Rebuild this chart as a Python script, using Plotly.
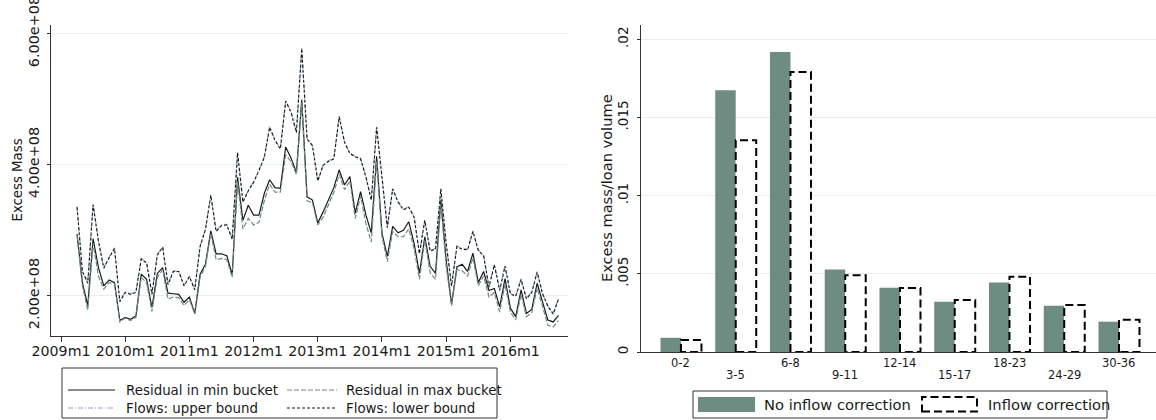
import plotly.graph_objects as go

W, H = 1156, 420

# ---- Left panel: monthly excess mass (units of 1e8), 2009m4 .. 2016m10 ----
first_month_index = 3  # months since 2009m1
resid_min = [
    2.94, 2.20, 1.85, 2.87, 2.43, 2.15, 2.24, 2.20, 1.62, 1.67, 1.64, 1.69,
    2.33, 2.25, 1.82, 2.34, 2.43, 2.04, 2.03, 2.02, 1.90, 1.98, 1.73, 2.33,
    2.48, 2.99, 2.64, 2.64, 2.61, 2.32, 3.81, 3.15, 3.38, 3.23, 3.23, 3.56,
    3.77, 3.65, 3.64, 4.27, 4.10, 3.88, 4.99, 3.51, 3.46, 3.11, 3.28, 3.46,
    3.65, 3.92, 3.69, 3.82, 3.26, 3.59, 3.23, 2.96, 4.13, 2.95, 2.60, 3.06,
    2.96, 3.00, 3.13, 2.80, 2.34, 2.90, 2.45, 2.34, 3.46, 2.54, 1.87, 2.44,
    2.48, 2.37, 2.65, 2.20, 2.37, 2.08, 2.11, 1.83, 2.26, 1.81, 1.68, 2.09,
    1.73, 1.79, 2.19, 1.91, 1.63, 1.60, 1.70,
]
resid_max = [
    2.92, 2.15, 1.78, 2.80, 2.30, 2.10, 2.20, 2.18, 1.60, 1.66, 1.62, 1.67,
    2.28, 2.20, 1.76, 2.28, 2.40, 1.95, 1.98, 1.97, 1.85, 1.94, 1.72, 2.28,
    2.45, 2.95, 2.55, 2.57, 2.55, 2.28, 3.75, 3.02, 3.18, 3.08, 3.12, 3.45,
    3.70, 3.58, 3.58, 4.15, 4.05, 3.85, 4.95, 3.45, 3.42, 3.08, 3.20, 3.38,
    3.58, 3.85, 3.62, 3.75, 3.18, 3.52, 3.10, 2.82, 4.05, 2.90, 2.52, 2.98,
    2.90, 2.90, 3.02, 2.72, 2.25, 2.85, 2.35, 2.25, 3.40, 2.45, 1.85, 2.40,
    2.38, 2.30, 2.58, 2.15, 2.30, 1.98, 2.05, 1.75, 2.18, 1.75, 1.63, 2.02,
    1.68, 1.74, 2.12, 1.84, 1.55, 1.52, 1.62,
]
flows_upper = [
    3.36, 2.38, 2.20, 3.40, 2.84, 2.43, 2.59, 2.73, 1.92, 2.06, 2.03, 2.06,
    2.57, 2.51, 2.03, 2.63, 2.75, 2.18, 2.38, 2.38, 2.16, 2.30, 2.10, 2.76,
    3.02, 3.54, 2.99, 3.08, 3.09, 2.87, 4.19, 3.44, 3.61, 3.74, 3.92, 4.12,
    4.58, 4.38, 4.25, 4.98, 4.81, 4.50, 5.78, 4.40, 4.30, 3.76, 4.00, 4.06,
    4.10, 4.74, 4.35, 4.18, 4.13, 4.10, 3.82, 3.47, 4.58, 3.82, 3.05, 3.64,
    3.44, 3.32, 3.36, 3.21, 2.65, 3.16, 2.69, 2.72, 3.64, 2.80, 2.16, 2.76,
    2.72, 2.71, 2.99, 2.70, 2.62, 2.14, 2.48, 2.09, 2.46, 2.04, 2.00, 2.26,
    1.96, 2.06, 2.37, 2.04, 1.85, 1.73, 1.96,
]
flows_lower = [
    3.35, 2.37, 2.19, 3.39, 2.83, 2.42, 2.58, 2.72, 1.91, 2.05, 2.02, 2.05,
    2.56, 2.50, 2.02, 2.62, 2.74, 2.17, 2.37, 2.37, 2.15, 2.29, 2.09, 2.75,
    3.01, 3.53, 2.98, 3.07, 3.08, 2.86, 4.18, 3.43, 3.60, 3.73, 3.91, 4.11,
    4.57, 4.37, 4.24, 4.97, 4.80, 4.49, 5.77, 4.39, 4.29, 3.75, 3.99, 4.05,
    4.09, 4.73, 4.34, 4.17, 4.12, 4.09, 3.81, 3.46, 4.57, 3.81, 3.04, 3.63,
    3.43, 3.31, 3.35, 3.20, 2.64, 3.15, 2.68, 2.71, 3.63, 2.79, 2.15, 2.75,
    2.71, 2.70, 2.98, 2.69, 2.61, 2.13, 2.47, 2.08, 2.45, 2.03, 1.99, 2.25,
    1.95, 2.05, 2.36, 2.03, 1.84, 1.72, 1.95,
]
year_tick_months = [0, 12, 24, 36, 48, 60, 72, 84]
year_tick_labels = ["2009m1", "2010m1", "2011m1", "2012m1",
                    "2013m1", "2014m1", "2015m1", "2016m1"]
mass_tick_vals = [2e8, 4e8, 6e8]
mass_tick_labels = ["2.00e+08", "4.00e+08", "6.00e+08"]

# ---- Right panel: excess mass relative to loan volume by maturity bucket ----
buckets = ["0-2", "3-5", "6-8", "9-11", "12-14", "15-17", "18-23", "24-29", "30-36"]
no_inflow = [0.00091, 0.01673, 0.01918, 0.00528, 0.00411, 0.00321, 0.00445, 0.00296, 0.00194]
with_inflow = [0.00077, 0.01354, 0.01790, 0.00490, 0.00409, 0.00332, 0.00481, 0.00300, 0.00206]
share_tick_vals = [0, 0.005, 0.01, 0.015, 0.02]
share_tick_labels = ["0", ".005", ".01", ".015", ".02"]

FONT = "DejaVu Sans"
INK = "#1a1a1a"
AXIS = "#333333"
GRID = "#e6eeef"
TEAL = "#6e8c82"
STEEL = "#8ea5bf"


def px(x):
    return x / W


def py(y):
    return 1 - y / H


months = [first_month_index + i for i in range(len(resid_min))]
scale = 1e8

fig = go.Figure()

fig.add_trace(go.Scatter(x=months, y=[v * scale for v in resid_min], mode="lines",
                         line=dict(color=INK, width=1.2), xaxis="x", yaxis="y"))
fig.add_trace(go.Scatter(x=months, y=[v * scale for v in resid_max], mode="lines",
                         line=dict(color=TEAL, width=1.2, dash="5px,2px"), xaxis="x", yaxis="y"))
fig.add_trace(go.Scatter(x=months, y=[v * scale for v in flows_upper], mode="lines",
                         line=dict(color=STEEL, width=1.2, dash="5px,2px,1px,2px"), xaxis="x", yaxis="y"))
fig.add_trace(go.Scatter(x=months, y=[v * scale for v in flows_lower], mode="lines",
                         line=dict(color=INK, width=1.1, dash="3px,2px"), xaxis="x", yaxis="y"))

# Bars: filled bar left of each bucket centre, outlined bar to the right
bar_w = 0.3744
idx = list(range(len(buckets)))
fig.add_trace(go.Bar(x=idx, y=no_inflow, width=bar_w, offset=-bar_w,
                     marker=dict(color=TEAL, line=dict(width=0)), xaxis="x2", yaxis="y2"))
fig.add_trace(go.Bar(x=idx, y=with_inflow, width=bar_w, offset=0,
                     marker=dict(color="white", line=dict(width=0)), xaxis="x2", yaxis="y2"))
ox, oy = [], []
for i, v in zip(idx, with_inflow):
    ox += [i, i, i + bar_w, i + bar_w, i, None]
    oy += [0, v, v, 0, 0, None]
fig.add_trace(go.Scatter(x=ox, y=oy, mode="lines", cliponaxis=False,
                         line=dict(color="black", width=2, dash="8px,4px"),
                         xaxis="x2", yaxis="y2"))

shapes = []
annotations = []

# category labels, staggered on two rows
for i, lab in enumerate(buckets):
    annotations.append(dict(x=i, xref="x2", y=py(363 if i % 2 == 0 else 375), yref="paper",
                            text=lab, showarrow=False, font=dict(size=11.5, color=INK),
                            xanchor="center", yanchor="middle"))

# axis titles
annotations.append(dict(x=px(16.5), y=py(180), xref="paper", yref="paper", text="Excess Mass",
                        textangle=-90, showarrow=False, font=dict(size=13.3, color=INK),
                        xanchor="center", yanchor="middle"))
annotations.append(dict(x=px(607), y=py(188), xref="paper", yref="paper",
                        text="Excess mass/loan volume", textangle=-90, showarrow=False,
                        font=dict(size=14.6, color=INK), xanchor="center", yanchor="middle"))

# left legend
shapes.append(dict(type="rect", xref="paper", yref="paper", x0=px(62), x1=px(497),
                   y0=py(418), y1=py(368), line=dict(color=AXIS, width=1), fillcolor="white",
                   layer="above"))
left_items = [
    (68, 115, 390, dict(color=INK, width=1.2), 125, "Residual in min bucket"),
    (287, 337, 390, dict(color=TEAL, width=1.2, dash="5px,2px"), 345, "Residual in max bucket"),
    (68, 115, 408, dict(color=STEEL, width=1.2, dash="5px,2px,1px,2px"), 125, "Flows: upper bound"),
    (287, 337, 408, dict(color=INK, width=1.1, dash="3px,2px"), 345, "Flows: lower bound"),
]
for x0, x1, yy, ln, tx, label in left_items:
    shapes.append(dict(type="line", xref="paper", yref="paper", x0=px(x0), x1=px(x1),
                       y0=py(yy), y1=py(yy), line=ln, layer="above"))
    annotations.append(dict(x=px(tx), y=py(yy), xref="paper", yref="paper", text=label,
                            showarrow=False, font=dict(size=13.4, color=INK),
                            xanchor="left", yanchor="middle", borderpad=0))

# right legend
shapes.append(dict(type="rect", xref="paper", yref="paper", x0=px(693), x1=px(1107),
                   y0=py(418), y1=py(391), line=dict(color=AXIS, width=1), fillcolor="white",
                   layer="above"))
shapes.append(dict(type="rect", xref="paper", yref="paper", x0=px(698), x1=px(755),
                   y0=py(412), y1=py(397), line=dict(width=0), fillcolor=TEAL, layer="above"))
shapes.append(dict(type="rect", xref="paper", yref="paper", x0=px(922), x1=px(977),
                   y0=py(411.5), y1=py(397), line=dict(color="black", width=2, dash="8px,4px"),
                   fillcolor="white", layer="above"))
annotations.append(dict(x=px(763), y=py(404), xref="paper", yref="paper",
                        text="No inflow correction", showarrow=False,
                        font=dict(size=14.7, color=INK), xanchor="left", yanchor="middle",
                        borderpad=0))
annotations.append(dict(x=px(987), y=py(404), xref="paper", yref="paper",
                        text="Inflow correction", showarrow=False,
                        font=dict(size=14.7, color=INK), xanchor="left", yanchor="middle",
                        borderpad=0))

fig.update_layout(
    width=W, height=H,
    margin=dict(l=0, r=0, t=0, b=0, autoexpand=False),
    paper_bgcolor="white", plot_bgcolor="white",
    font=dict(family=FONT, color=INK),
    showlegend=False,
    barmode="overlay",
    xaxis=dict(domain=[px(51), px(568)], range=[-1.87, 94.77], anchor="y", automargin=False,
               tickvals=year_tick_months, ticktext=year_tick_labels,
               ticks="outside", ticklen=5, tickcolor=AXIS, tickwidth=1,
               showline=True, linecolor=AXIS, linewidth=1, showgrid=False, zeroline=False,
               tickfont=dict(size=14.2, color=INK), ticklabeloverflow="allow",
               ticklabelstandoff=-3),
    yaxis=dict(domain=[py(336), py(25)], range=[1.385e8, 6.133e8], anchor="x", automargin=False,
               tickvals=mass_tick_vals, ticktext=mass_tick_labels, tickangle=-90,
               ticks="outside", ticklen=3, tickcolor=AXIS, tickwidth=1,
               showline=True, linecolor=AXIS, linewidth=1, showgrid=True,
               gridcolor=GRID, gridwidth=1, zeroline=False,
               tickfont=dict(size=14.4, color=INK), ticklabeloverflow="allow",
               ticklabelstandoff=2),
    xaxis2=dict(domain=[px(641), 1.0], range=[-0.73, 8.676], anchor="y2", automargin=False,
                showticklabels=False, ticks="", showline=True, linecolor=AXIS, linewidth=1,
                showgrid=False, zeroline=False),
    yaxis2=dict(domain=[py(352), py(25)], range=[0, 0.02091], anchor="x2", automargin=False,
                tickvals=share_tick_vals, ticktext=share_tick_labels, tickangle=-90,
                ticks="outside", ticklen=3, tickcolor=AXIS, tickwidth=1,
                showline=True, linecolor=AXIS, linewidth=1, showgrid=True,
                gridcolor=GRID, gridwidth=1, zeroline=False,
                tickfont=dict(size=13.5, color=INK), ticklabeloverflow="allow",
                ticklabelstandoff=4),
    shapes=shapes,
    annotations=annotations,
)

fig.write_html("out.html", config=dict(displayModeBar=False))
